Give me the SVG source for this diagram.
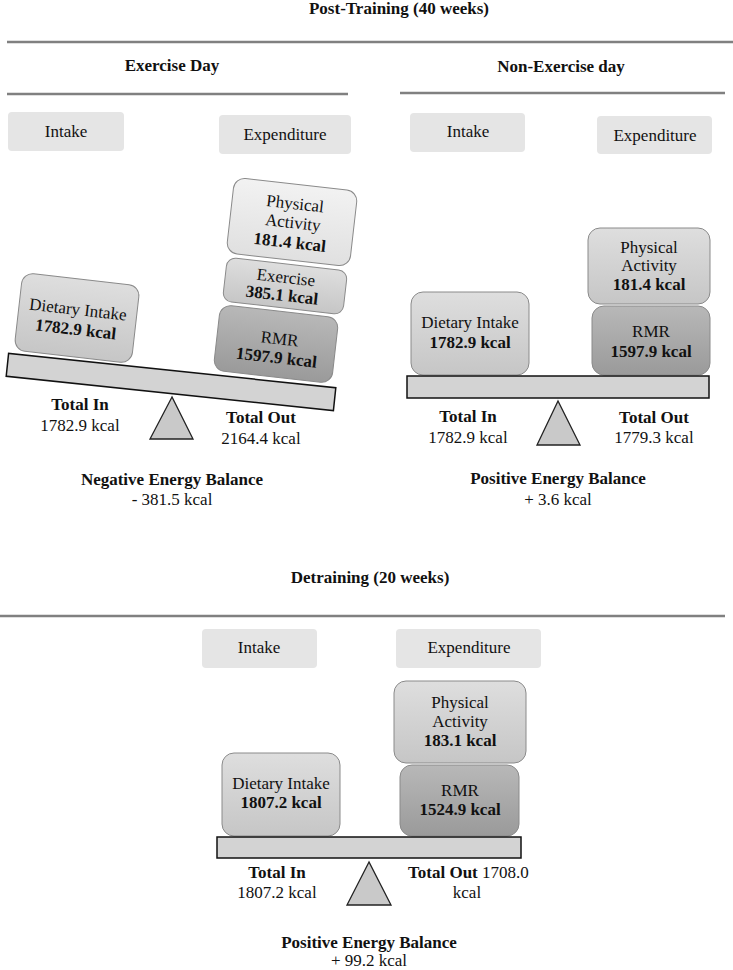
<svg xmlns="http://www.w3.org/2000/svg" width="733" height="970" viewBox="0 0 733 970">
<style>
text{font-family:"Liberation Serif","Times New Roman",serif;font-size:17px;fill:#111;text-anchor:middle}
.b{font-weight:bold}
.sep{stroke:#808080;stroke-width:2.5;fill:none}
.hdr{fill:#e5e5e5;stroke:none}
.box{stroke:#8a8a8a;stroke-width:1}
.beam{fill:#d3d3d3;stroke:#111;stroke-width:1.5}
.tri{fill:#c9c9c9;stroke:#222;stroke-width:1.3}
</style>
<defs>
<linearGradient id="gL" x1="0" y1="0" x2="0" y2="1"><stop offset="0" stop-color="#f2f2f2"/><stop offset="1" stop-color="#e0e0e0"/></linearGradient>
<linearGradient id="gM" x1="0" y1="0" x2="0" y2="1"><stop offset="0" stop-color="#dedede"/><stop offset="1" stop-color="#c6c6c6"/></linearGradient>
<linearGradient id="gD" x1="0" y1="0" x2="0" y2="1"><stop offset="0" stop-color="#b8b8b8"/><stop offset="1" stop-color="#9a9a9a"/></linearGradient>
</defs>

<g id="titles">
<text class="b" x="399" y="14">Post-Training (40 weeks)</text>
<text class="b" x="172" y="71">Exercise Day</text>
<text class="b" x="561" y="72">Non-Exercise day</text>
<text class="b" x="370" y="583">Detraining (20 weeks)</text>
</g>
<g id="separators">
<line class="sep" x1="7" y1="42" x2="733" y2="42"/>
<line class="sep" x1="7" y1="94" x2="348" y2="94"/>
<line class="sep" x1="400" y1="93" x2="725" y2="93"/>
<line class="sep" x1="0" y1="616" x2="725" y2="616"/>
</g>

<!-- Exercise day -->
<g id="ex-intake"><rect class="hdr" x="8" y="112" width="116" height="39" rx="4"/><text x="66" y="137">Intake</text></g>
<g id="ex-expenditure"><rect class="hdr" x="219" y="115" width="132" height="39" rx="4"/><text x="285" y="140">Expenditure</text></g>
<g id="ex-beam"><rect class="beam" x="-164.5" y="-11.5" width="329" height="23" transform="translate(171,382) rotate(6)"/></g>
<g id="ex-fulcrum"><polygon class="tri" points="172,397 150,439 193,439"/></g>
<g id="ex-dietary" transform="translate(77,318) rotate(6.5)">
<rect class="box" x="-59" y="-39" width="118" height="78" rx="11" fill="url(#gM)"/>
<text x="0" y="-3">Dietary Intake</text><text class="b" x="0" y="17">1782.9 kcal</text></g>
<g id="ex-pa" transform="translate(292,222) rotate(6.5)">
<rect class="box" x="-62" y="-38" width="124" height="76" rx="11" fill="url(#gL)"/>
<text x="1" y="-13">Physical</text><text x="1" y="6">Activity</text><text class="b" x="0" y="26">181.4 kcal</text></g>
<g id="ex-exercise" transform="translate(285,286) rotate(6.5)">
<rect class="box" x="-60.5" y="-22" width="121" height="44" rx="9" fill="url(#gM)"/>
<text x="0" y="-3">Exercise</text><text class="b" x="-2" y="15">385.1 kcal</text></g>
<g id="ex-rmr" transform="translate(276,344) rotate(6.5)">
<rect class="box" x="-59.5" y="-33" width="119" height="66" rx="11" fill="url(#gD)"/>
<text x="3" y="0">RMR</text><text class="b" x="2" y="19">1597.9 kcal</text></g>
<g id="ex-totals">
<text class="b" x="80" y="410">Total In</text><text x="80" y="431">1782.9 kcal</text>
<text class="b" x="261" y="423">Total Out</text><text x="261" y="444">2164.4 kcal</text>
<text class="b" x="172" y="485">Negative Energy Balance</text><text x="172" y="505">- 381.5 kcal</text>
</g>

<!-- Non-exercise day -->
<g id="nx-intake"><rect class="hdr" x="410" y="113" width="115" height="39" rx="4"/><text x="468" y="137">Intake</text></g>
<g id="nx-expenditure"><rect class="hdr" x="597" y="116" width="115" height="38" rx="4"/><text x="655" y="141">Expenditure</text></g>
<g id="nx-dietary"><rect class="box" x="411" y="292" width="118" height="83" rx="12" fill="url(#gM)"/>
<text x="470" y="328">Dietary Intake</text><text class="b" x="470" y="348">1782.9 kcal</text></g>
<g id="nx-pa"><rect class="box" x="588" y="228" width="122" height="76" rx="12" fill="url(#gM)"/>
<text x="649" y="253">Physical</text><text x="649" y="271">Activity</text><text class="b" x="649" y="290">181.4 kcal</text></g>
<g id="nx-rmr"><rect class="box" x="592" y="306" width="118" height="69" rx="12" fill="url(#gD)"/>
<text x="651" y="337">RMR</text><text class="b" x="651" y="357">1597.9 kcal</text></g>
<g id="nx-beam"><rect class="beam" x="407" y="376" width="302" height="22"/></g>
<g id="nx-fulcrum"><polygon class="tri" points="558,401 537,445 580,445"/></g>
<g id="nx-totals">
<text class="b" x="468" y="422">Total In</text><text x="468" y="443">1782.9 kcal</text>
<text class="b" x="654" y="423">Total Out</text><text x="654" y="443">1779.3 kcal</text>
<text class="b" x="558" y="484">Positive Energy Balance</text><text x="558" y="505">+ 3.6 kcal</text>
</g>

<!-- Detraining -->
<g id="dt-intake"><rect class="hdr" x="202" y="629" width="115" height="39" rx="4"/><text x="259" y="653">Intake</text></g>
<g id="dt-expenditure"><rect class="hdr" x="396" y="629" width="145" height="39" rx="4"/><text x="469" y="653">Expenditure</text></g>
<g id="dt-dietary"><rect class="box" x="222" y="753" width="118" height="83" rx="12" fill="url(#gM)"/>
<text x="281" y="789">Dietary Intake</text><text class="b" x="281" y="808">1807.2 kcal</text></g>
<g id="dt-pa"><rect class="box" x="394" y="681" width="132" height="82" rx="12" fill="url(#gM)"/>
<text x="460" y="708">Physical</text><text x="460" y="727">Activity</text><text class="b" x="460" y="746">183.1 kcal</text></g>
<g id="dt-rmr"><rect class="box" x="400" y="765" width="119" height="71" rx="12" fill="url(#gD)"/>
<text x="460" y="796">RMR</text><text class="b" x="460" y="815">1524.9 kcal</text></g>
<g id="dt-beam"><rect class="beam" x="217" y="837" width="304" height="21"/></g>
<g id="dt-fulcrum"><polygon class="tri" points="369,862 347,905 391,905"/></g>
<g id="dt-totals">
<text class="b" x="277" y="878">Total In</text><text x="277" y="898">1807.2 kcal</text>
<text x="408" y="878" style="text-anchor:start"><tspan class="b">Total Out</tspan> 1708.0</text><text x="467" y="898">kcal</text>
<text class="b" x="369" y="948">Positive Energy Balance</text><text x="369" y="966">+ 99.2 kcal</text>
</g>
</svg>
